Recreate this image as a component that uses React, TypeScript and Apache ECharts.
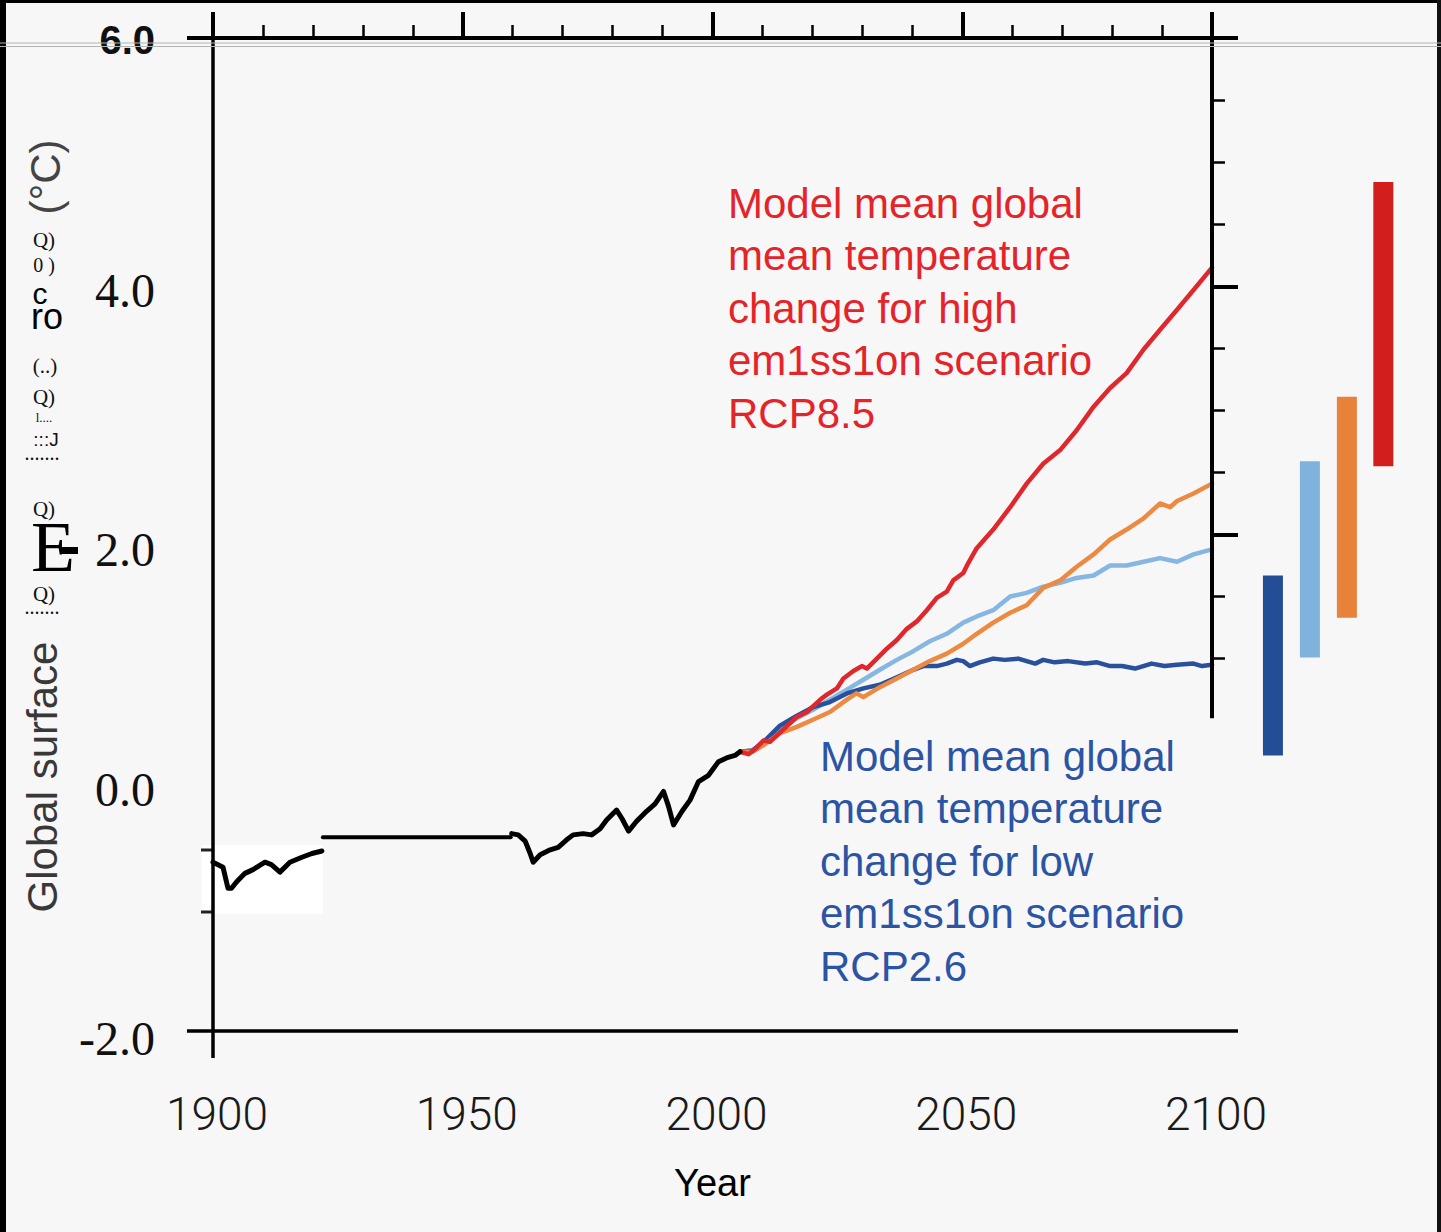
import React, { useEffect, useRef } from "react";
import * as echarts from "echarts";

// ---------- data ----------
const xTickValues = [1900, 1950, 2000, 2050, 2100];
const yTickValues = [-2, 0, 2, 4, 6];
const rightMajorTicks = [2, 4];
const rightMinorTicks = [1, 1.5, 2.5, 3, 3.5, 4.5, 5, 5.5];

const histEarly: [number, number][] = [
  [1900, -0.64], [1902, -0.68], [1903, -0.85], [1903.7, -0.85], [1904.7, -0.8],
  [1906.4, -0.73], [1908, -0.7], [1910.4, -0.64], [1911.7, -0.66], [1913.4, -0.72],
  [1915.4, -0.64], [1917.8, -0.6], [1919.8, -0.57], [1921.8, -0.55],
];
const histFlat: [number, number][] = [[1922, -0.44], [1959.6, -0.44]];
const histLate: [number, number][] = [
  [1959.8, -0.41], [1961.1, -0.42], [1962.5, -0.47], [1963.5, -0.57], [1964.1, -0.64],
  [1965.5, -0.58], [1967.5, -0.54], [1969.1, -0.52], [1970.8, -0.46], [1972.1, -0.42],
  [1974.1, -0.41], [1975.8, -0.42], [1977.5, -0.37], [1978.8, -0.3], [1980.8, -0.22],
  [1981.9, -0.29], [1983.2, -0.39], [1984.8, -0.31], [1986.8, -0.23], [1988.5, -0.17],
  [1990.2, -0.07], [1991.2, -0.19], [1992.2, -0.34], [1993.9, -0.23], [1995.5, -0.14],
  [1997.2, 0.01], [1999.2, 0.06], [2001.2, 0.17], [2002.8, 0.2], [2004.5, 0.22], [2005.5, 0.25],
];
const rcp85: [number, number][] = [
  [2005.5, 0.25], [2007.2, 0.23], [2008.5, 0.27], [2010.2, 0.34], [2011.5, 0.33], [2014.2, 0.43],
  [2016.9, 0.53], [2018.9, 0.57], [2021.6, 0.67], [2022.9, 0.71], [2024.9, 0.76], [2026.2, 0.84],
  [2028.2, 0.9], [2029.9, 0.94], [2030.9, 0.92], [2032.9, 1.0], [2034.9, 1.08], [2036.9, 1.15],
  [2038.9, 1.24], [2040.9, 1.3], [2042.9, 1.39], [2044.9, 1.49], [2046.9, 1.54], [2048.2, 1.63],
  [2050.2, 1.69], [2051.2, 1.77], [2052.9, 1.89], [2056.2, 2.04], [2059.6, 2.22], [2062.9, 2.41],
  [2066.2, 2.57], [2069.6, 2.68], [2072.9, 2.84], [2076.3, 3.03], [2079.6, 3.18], [2082.9, 3.3],
  [2086.3, 3.49], [2089.6, 3.65], [2093.0, 3.81], [2096.3, 3.97], [2100, 4.15],
];
const rcp60: [number, number][] = [
  [2005.5, 0.25], [2008, 0.25], [2010.5, 0.31], [2013.5, 0.4], [2016.9, 0.45], [2020.2, 0.51],
  [2023.5, 0.57], [2026.9, 0.67], [2028.8, 0.72], [2030.2, 0.69], [2033.5, 0.77], [2036.9, 0.84],
  [2040.2, 0.91], [2043.5, 0.98], [2046.9, 1.04], [2050.2, 1.12], [2052.9, 1.2], [2056.2, 1.29],
  [2059.6, 1.37], [2062.9, 1.43], [2066.2, 1.57], [2069.6, 1.63], [2072.9, 1.74], [2076.3, 1.84],
  [2079.6, 1.96], [2082.9, 2.04], [2086.3, 2.13], [2089.6, 2.25], [2091.6, 2.22], [2093.0, 2.27],
  [2096.3, 2.33], [2100, 2.41],
];
const rcp45: [number, number][] = [
  [2005.5, 0.25], [2008, 0.26], [2010.5, 0.33], [2013.5, 0.44], [2016.9, 0.52], [2020.2, 0.59],
  [2023.5, 0.67], [2026.9, 0.75], [2030.2, 0.83], [2033.5, 0.91], [2036.9, 0.99], [2040.2, 1.06],
  [2043.5, 1.14], [2046.9, 1.2], [2050.2, 1.29], [2052.9, 1.34], [2056.2, 1.39], [2059.6, 1.5],
  [2062.9, 1.53], [2066.2, 1.58], [2069.6, 1.61], [2072.9, 1.65], [2076.3, 1.67], [2079.6, 1.75],
  [2082.9, 1.75], [2086.3, 1.78], [2089.6, 1.81], [2093.0, 1.78], [2096.3, 1.84], [2100, 1.88],
];
const rcp26: [number, number][] = [
  [2005.5, 0.25], [2008, 0.26], [2010.5, 0.34], [2013.5, 0.46], [2016.9, 0.54], [2020.2, 0.61],
  [2023.5, 0.65], [2026.9, 0.72], [2030.2, 0.76], [2033.5, 0.79], [2036.9, 0.85], [2040.2, 0.91],
  [2042.2, 0.94], [2044.9, 0.94], [2046.9, 0.96], [2048.9, 0.99], [2050.2, 0.98], [2051.5, 0.94],
  [2053.5, 0.97], [2056.2, 1.0], [2058.5, 0.99], [2061.2, 1.0], [2064.6, 0.96], [2066.2, 0.99],
  [2068.5, 0.97], [2071.2, 0.98], [2074.6, 0.96], [2077, 0.97], [2079.6, 0.94], [2082, 0.94],
  [2084.6, 0.92], [2087.9, 0.96], [2090.5, 0.94], [2093, 0.95], [2096.3, 0.96], [2098, 0.94], [2100, 0.95],
];

// likely ranges at 2081-2100 (RCP2.6, RCP4.5, RCP6.0, RCP8.5)
const rangeYear = [2112.2, 2119.6, 2127.0, 2134.3];
const rangeLow = [0.22, 1.01, 1.33, 2.55];
const rangeHigh = [1.67, 2.59, 3.11, 4.84];

const highLines = ["Model mean global", "mean temperature", "change for high", "em1ss1on scenario", "RCP8.5"];
const lowLines = ["Model mean global", "mean temperature", "change for low", "em1ss1on scenario", "RCP2.6"];

// ---------- styles ----------
const barColors = ["#234e96", "#80b2de", "#e8813a", "#d21f1b"];
const C_RED = "#e0272c";
const C_ORANGE = "#ec8a42";
const C_LBLUE = "#86b6e2";
const C_DBLUE = "#28509c";
const SANS = "'Liberation Sans', Arial, sans-serif";
const SERIF = "'Liberation Serif', 'Times New Roman', serif";

function lineSeries(data: [number, number][], color: string, z: number, width: number) {
  return {
    type: "line",
    data,
    xAxisIndex: 0,
    yAxisIndex: 0,
    showSymbol: false,
    symbol: "none",
    silent: true,
    z,
    lineStyle: { color, width, cap: "round", join: "round" },
  };
}

export default function App() {
  const ref = useRef<HTMLDivElement>(null);
  useEffect(() => {
    document.body.style.margin = "0";
    const chart = echarts.init(ref.current!, undefined, { renderer: "svg" });
    const option: any = {
      animation: false,
      backgroundColor: "#f7f7f7",
      grid: { left: 213, top: 38, width: 999, height: 993, outerBoundsMode: "none", containLabel: false },
      xAxis: [
        {
          type: "value",
          position: "bottom",
          min: 1900,
          max: 2100,
          interval: 50,
          axisLine: { show: false, onZero: false },
          axisTick: { show: false },
          splitLine: { show: false },
          axisLabel: {
            margin: 60,
            fontSize: 46,
            fontFamily: "Roboto, 'Liberation Sans', sans-serif",
            fontWeight: 300,
            color: "#1a1a1a",
            padding: [0, 0, 0, 8],
            formatter: (v: number) => (xTickValues.includes(v) ? String(v) : ""),
          },
          name: "Year",
          nameLocation: "middle",
          nameGap: 133,
          nameTextStyle: { fontSize: 38, fontFamily: SANS, color: "#000", verticalAlign: "top" },
        },
        {
          type: "value",
          position: "top",
          min: 1900,
          max: 2100,
          interval: 50,
          axisLine: { show: false, onZero: false },
          axisLabel: { show: false },
          splitLine: { show: false },
          axisTick: { show: true, length: 26, lineStyle: { color: "#000", width: 4 } },
          minorTick: { show: true, splitNumber: 5, length: 13, lineStyle: { color: "#000", width: 2.5 } },
          minorSplitLine: { show: false },
        },
      ],
      yAxis: [
        {
          type: "value",
          position: "left",
          min: -2,
          max: 6,
          interval: 2,
          axisLine: { show: false, onZero: false },
          axisTick: { show: false },
          splitLine: { show: false },
          axisLabel: {
            margin: 58,
            formatter: (v: number) => {
              if (!yTickValues.includes(v)) return "";
              const s = v.toFixed(1);
              if (v === 6) return `{b|${s}}`;
              if (v === 2) return `{d|${s}}`;
              if (v === 4) return `{f|${s}}`;
              return `{s|${s}}`;
            },
            rich: {
              b: { fontFamily: SANS, fontWeight: "bold", fontSize: 40, color: "#111", padding: [4, 0, 0, 0] },
              s: { fontFamily: SERIF, fontSize: 48, color: "#111", padding: [14, 0, 0, 0] },
              f: { fontFamily: SERIF, fontSize: 48, color: "#111", padding: [9, 0, 0, 0] },
              d: { fontFamily: SERIF, fontSize: 48, color: "#111", padding: [30, 0, 0, 0] },
            },
          },
        },
        {
          type: "value",
          position: "right",
          min: -2,
          max: 6,
          interval: 2,
          axisLine: { show: false, onZero: false },
          axisLabel: { show: false },
          splitLine: { show: false },
          axisTick: { show: true, customValues: rightMajorTicks, length: 26, lineStyle: { color: "#000", width: 4 } },
        },
        {
          type: "value",
          position: "right",
          min: -2,
          max: 6,
          interval: 2,
          axisLine: { show: false, onZero: false },
          axisLabel: { show: false },
          splitLine: { show: false },
          axisTick: { show: true, customValues: rightMinorTicks, length: 13, lineStyle: { color: "#000", width: 2.5 } },
        },
      ],
      series: [
        lineSeries(histEarly, "#000", 5, 5),
        lineSeries(histFlat, "#000", 5, 4),
        lineSeries(histLate, "#000", 5, 5),
        lineSeries(rcp45, C_LBLUE, 3, 4.5),
        lineSeries(rcp26, C_DBLUE, 3, 4.5),
        lineSeries(rcp60, C_ORANGE, 3, 4.5),
        lineSeries(rcp85, C_RED, 4, 4.5),
        {
          type: "custom",
          xAxisIndex: 0,
          yAxisIndex: 0,
          clip: false,
          silent: true,
          z: 4,
          encode: { x: 0, y: [1, 2] },
          data: rangeYear.map((yr, i) => [yr, rangeLow[i], rangeHigh[i]]),
          renderItem: (params: any, api: any) => {
            const x = api.value(0);
            const top = api.coord([x, api.value(2)]);
            const bot = api.coord([x, api.value(1)]);
            const w = api.size([4, 0])[0];
            return {
              type: "rect",
              shape: { x: top[0] - w / 2, y: top[1], width: w, height: bot[1] - top[1] },
              style: { fill: barColors[params.dataIndex] },
            };
          },
        },
      ],
    };
    chart.setOption(option);

    const px = (x: number, y: number) => chart.convertToPixel({ seriesIndex: 0 }, [x, y]) as number[];
    const [xL, yTop] = px(1900, 6);
    const [xR, yBot] = px(2100, -2);
    const [, yRightEnd] = px(2100, 0.52);

    const blk = { stroke: "#000", lineWidth: 4, lineCap: "butt" };
    const txt = (text: string, x: number, y: number, size: number, family: string, extra: any = {}) => ({
      type: "text",
      x,
      y,
      z: 20,
      silent: true,
      style: { text, fontSize: size, fontFamily: family, fill: "#111", align: "center", verticalAlign: "middle", ...extra },
    });

    const graphic: any[] = [
      // white patch around early record
      { type: "rect", z: 1, silent: true, shape: { x: 202, y: 845, width: 121, height: 69 }, style: { fill: "#ffffff" } },
      { type: "line", z: 10, silent: true, shape: { x1: 201, y1: 850, x2: 213, y2: 850 }, style: { stroke: "#222", lineWidth: 3 } },
      { type: "line", z: 10, silent: true, shape: { x1: 201, y1: 912, x2: 213, y2: 912 }, style: { stroke: "#222", lineWidth: 3 } },
      // axis lines
      { type: "line", z: 10, silent: true, shape: { x1: xL, y1: yTop - 26, x2: xL, y2: yBot + 27 }, style: { ...blk, lineWidth: 3.5 } },
      { type: "line", z: 10, silent: true, shape: { x1: xR, y1: yTop - 26, x2: xR, y2: yRightEnd }, style: blk },
      { type: "line", z: 10, silent: true, shape: { x1: xL - 26, y1: yTop, x2: xR + 26, y2: yTop }, style: blk },
      { type: "line", z: 10, silent: true, shape: { x1: xL - 26, y1: yBot, x2: xR + 26, y2: yBot }, style: { ...blk, lineWidth: 3.5 } },
      // frame
      { type: "rect", z: 30, silent: true, shape: { x: 0, y: 0, width: 6, height: 1232 }, style: { fill: "#000" } },
      { type: "rect", z: 30, silent: true, shape: { x: 0, y: 0, width: 1441, height: 3 }, style: { fill: "#000" } },
      { type: "rect", z: 30, silent: true, shape: { x: 1437, y: 0, width: 4, height: 1232 }, style: { fill: "#111" } },
      { type: "line", z: 30, silent: true, shape: { x1: 0, y1: 43, x2: 1441, y2: 43 }, style: { stroke: "#b4b4b4", lineWidth: 1 } },
      { type: "line", z: 30, silent: true, shape: { x1: 0, y1: 46.5, x2: 1441, y2: 46.5 }, style: { stroke: "#b4b4b4", lineWidth: 1 } },
      // y-axis title
      { type: "text", x: 42, y: 777, rotation: Math.PI / 2, z: 20, silent: true,
        style: { text: "Global surface", fontSize: 42, fontFamily: SANS, fill: "#383838", align: "center", verticalAlign: "middle" } },
      { type: "text", x: 45, y: 177, rotation: Math.PI / 2, z: 20, silent: true,
        style: { text: "(°C)", fontSize: 42, fontFamily: SANS, fill: "#444", align: "center", verticalAlign: "middle" } },
      txt("Q)", 44, 240, 21, SERIF),
      txt("0 )", 44, 265, 20, SERIF),
      txt("c", 40, 293, 30, SANS, { fill: "#000" }),
      txt("ro", 47, 316, 36, SANS, { fill: "#000" }),
      txt("(..)", 45, 366, 21, SERIF),
      txt("Q)", 44, 397, 21, SERIF),
      txt("l....", 44, 417, 13, SERIF),
      txt(":::J", 46, 439, 19, SANS),
      txt(".......", 42, 453, 20, SERIF),
      txt("Q)", 44, 509, 21, SERIF),
      txt("E", 53, 547, 72, SERIF, { fill: "#000" }),
      { type: "rect", z: 21, silent: true, shape: { x: 60, y: 547, width: 18, height: 7 }, style: { fill: "#000" } },
      txt("Q)", 44, 594, 21, SERIF),
      txt(".......", 42, 607, 20, SERIF),
      // annotations
      { type: "text", x: 728, y: 177, z: 20, silent: true,
        style: { text: highLines.join("\n"), fontSize: 42, lineHeight: 52.5, fontFamily: SANS, fill: "#e5242a", align: "left", verticalAlign: "top" } },
      { type: "text", x: 820, y: 730, z: 20, silent: true,
        style: { text: lowLines.join("\n"), fontSize: 42, lineHeight: 52.5, fontFamily: SANS, fill: "#2c54a4", align: "left", verticalAlign: "top" } },
    ];
    chart.setOption({ graphic });
    return () => chart.dispose();
  }, []);
  return <div ref={ref} style={{ width: 1441, height: 1232 }} />;
}
